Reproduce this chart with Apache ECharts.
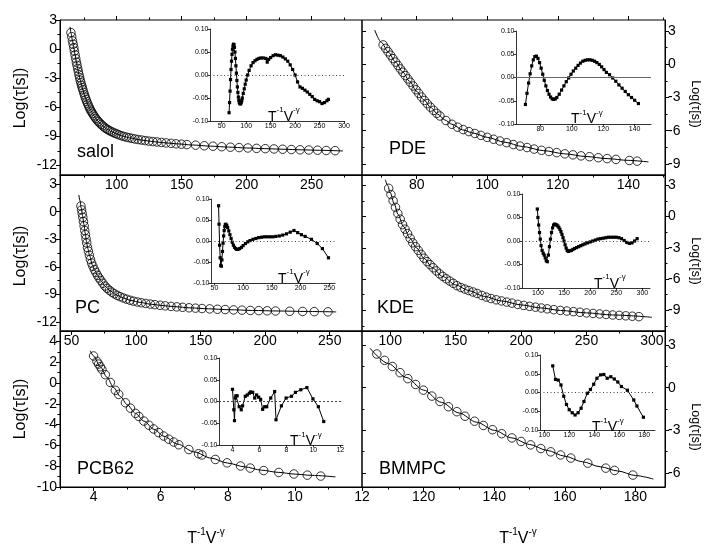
<!DOCTYPE html>
<html>
<head>
<meta charset="utf-8">
<script src="https://cdn.jsdelivr.net/npm/echarts@6/dist/echarts.min.js"></script>
<style>
html, body { margin: 0; padding: 0; background: #fff; }
#chart { width: 712px; height: 548px; }
</style>
</head>
<body>
<div id="chart"></div>
<script>
// ---------- salol ----------
const salolX = [64.8, 65.4, 66, 66.5, 67, 67.5, 68, 68.5, 69, 69.5, 70, 70.5, 71, 71.5, 72, 72.5, 73, 73.5, 74, 74.6, 75.2, 75.8, 76.4, 77, 77.7, 78.4, 79.1, 79.8, 80.6, 81.4, 82.2, 83.1, 84, 85, 86, 87, 88.1, 89.2, 90.4, 91.6, 92.9, 94.2, 95.6, 97, 98.5, 100, 101.7, 103.5, 105.4, 107.4, 109.5, 111.7, 114, 116.5, 119.1, 121.9, 124.8, 127.8, 131, 134.4, 138, 141.8, 145.7, 149.8, 154, 160.7, 167.4, 174.1, 180.8, 187.5, 194.2, 200.9, 207.6, 214.3, 221, 227.7, 234.4, 241.1, 247.8, 254.5, 261.2, 268];
const salolY = [1.7, 1.28, 0.85, 0.5, 0.15, -0.22, -0.6, -0.98, -1.35, -1.68, -2.0, -2.33, -2.65, -2.94, -3.22, -3.49, -3.75, -3.98, -4.2, -4.47, -4.73, -4.97, -5.2, -5.42, -5.65, -5.87, -6.08, -6.29, -6.46, -6.64, -6.82, -7.0, -7.17, -7.34, -7.5, -7.64, -7.79, -7.92, -8.06, -8.18, -8.3, -8.4, -8.5, -8.59, -8.68, -8.76, -8.85, -8.94, -9.02, -9.09, -9.15, -9.22, -9.28, -9.34, -9.39, -9.45, -9.5, -9.55, -9.59, -9.64, -9.69, -9.73, -9.78, -9.82, -9.86, -9.92, -9.98, -10.03, -10.08, -10.13, -10.17, -10.21, -10.25, -10.28, -10.31, -10.34, -10.37, -10.4, -10.42, -10.44, -10.47, -10.49];
const salolFitX = [64.1, 65, 66, 67, 68, 69, 70, 71, 72, 73, 74, 75, 76, 77, 78, 79, 80, 82, 84, 86, 88, 90, 93, 96, 100, 105, 110, 118, 126, 135, 146, 158, 172, 186, 200, 214, 228, 242, 256, 274];
const salolFitY = [2.3, 1.6, 0.85, 0.15, -0.6, -1.35, -2.0, -2.65, -3.22, -3.75, -4.2, -4.65, -5.05, -5.42, -5.75, -6.05, -6.32, -6.78, -7.17, -7.5, -7.78, -8.02, -8.31, -8.53, -8.76, -8.99, -9.17, -9.37, -9.52, -9.65, -9.78, -9.9, -10.02, -10.12, -10.21, -10.28, -10.34, -10.4, -10.45, -10.52];
const salolResX = [65, 66, 67, 68, 69, 70, 71, 72, 73, 74, 75, 76, 77, 78, 79, 80, 81, 82, 83, 84, 85, 86, 87, 88, 89, 90, 91, 92, 94, 96, 98, 100, 103, 106, 110, 114, 118, 122, 126, 130, 135, 140, 143, 146, 150, 155, 160, 165, 170, 175, 180, 185, 190, 195, 200, 205, 210, 215, 220, 225, 230, 235, 240, 245, 250, 255, 260, 265, 268];
const salolResY = [-0.082, -0.06, -0.035, -0.01, 0.012, 0.03, 0.045, 0.056, 0.063, 0.067, 0.066, 0.06, 0.05, 0.036, 0.02, 0.004, -0.012, -0.026, -0.038, -0.048, -0.055, -0.06, -0.062, -0.063, -0.062, -0.059, -0.055, -0.05, -0.04, -0.03, -0.02, -0.011, 0.0, 0.01, 0.02, 0.027, 0.031, 0.034, 0.036, 0.037, 0.037, 0.036, 0.028, 0.034, 0.038, 0.042, 0.044, 0.043, 0.042, 0.039, 0.035, 0.03, 0.022, 0.012, 0.0, -0.015, -0.026, -0.029, -0.033, -0.037, -0.042, -0.047, -0.053, -0.056, -0.058, -0.062, -0.06, -0.056, -0.053];

// ---------- PDE ----------
const pdeX = [70.5, 71.2, 71.9, 72.6, 73.3, 74, 74.7, 75.4, 76.1, 76.8, 77.5, 78.2, 79, 79.8, 80.6, 81.4, 82.2, 83, 83.9, 84.8, 85.7, 86.6, 88.3, 90, 91.6, 93.2, 94.8, 96.5, 98.2, 100, 101.8, 103.6, 105.5, 107.4, 109.3, 111.3, 113.3, 115.4, 117.5, 119.7, 122, 124.3, 126.6, 129, 131.5, 134, 136.5, 140.3, 142.5];
const pdeY = [1.75, 1.44, 1.13, 0.82, 0.51, 0.2, -0.11, -0.42, -0.72, -1.02, -1.32, -1.62, -1.96, -2.3, -2.63, -2.96, -3.27, -3.56, -3.87, -4.16, -4.43, -4.67, -5.08, -5.42, -5.68, -5.9, -6.08, -6.25, -6.42, -6.6, -6.77, -6.93, -7.08, -7.25, -7.39, -7.52, -7.66, -7.77, -7.88, -7.98, -8.09, -8.18, -8.27, -8.35, -8.44, -8.52, -8.59, -8.69, -8.75];
const pdeFitX = [68.1, 70, 72, 74, 76, 78, 80, 82, 84, 86, 88, 90, 93, 96, 100, 105, 110, 116, 122, 128, 134, 140, 145.7];
const pdeFitY = [3.1, 1.97, 1.09, 0.2, -0.68, -1.54, -2.46, -3.2, -3.9, -4.51, -5.03, -5.42, -5.92, -6.21, -6.6, -7.04, -7.43, -7.8, -8.09, -8.33, -8.52, -8.68, -8.82];
const pdeResX = [70.5, 71.5, 72.5, 73.5, 74.5, 75.5, 76.5, 77.5, 78.5, 79.5, 80.5, 81.5, 82.5, 83.5, 84.5, 85.5, 86.5, 87.5, 88.5, 89.5, 90.5, 92, 93.5, 95, 96.5, 98, 99.5, 101, 102.5, 104, 105.5, 107, 108.5, 110, 111.5, 113, 114.5, 116, 117.5, 119, 120.5, 122, 124, 126, 128, 130, 132, 134, 136, 138, 140, 142.4];
const pdeResY = [-0.058, -0.034, -0.012, 0.008, 0.025, 0.038, 0.045, 0.046, 0.041, 0.032, 0.02, 0.007, -0.006, -0.018, -0.028, -0.036, -0.042, -0.046, -0.047, -0.046, -0.043, -0.036, -0.027, -0.018, -0.009, -0.001, 0.007, 0.014, 0.02, 0.026, 0.031, 0.035, 0.037, 0.038, 0.038, 0.037, 0.035, 0.032, 0.028, 0.023, 0.017, 0.011, 0.006, -0.001, -0.008, -0.016, -0.023, -0.03, -0.037, -0.043, -0.049, -0.056];

// ---------- PC ----------
const pcX = [57.2, 57.7, 58.2, 58.7, 59.2, 59.7, 60.2, 60.7, 61.2, 61.7, 62.3, 63, 63.8, 64.6, 65.5, 66.5, 67.6, 68.8, 70, 71.3, 72.7, 74.2, 75.8, 77.5, 79.3, 81.2, 83.2, 85.3, 87.5, 90, 92.6, 95.3, 98, 101, 104, 107.5, 111, 114.5, 118.5, 122.5, 127, 131.5, 136, 141, 146, 151, 157, 163, 169, 175.5, 182, 188.5, 195, 201.5, 208, 219, 229, 238, 248.6];
const pcY = [0.62, 0.2, -0.2, -0.62, -1.08, -1.55, -2.05, -2.5, -2.95, -3.4, -3.9, -4.3, -4.75, -5.2, -5.6, -5.95, -6.3, -6.62, -6.93, -7.22, -7.5, -7.8, -8.1, -8.35, -8.57, -8.77, -8.95, -9.11, -9.26, -9.4, -9.53, -9.65, -9.75, -9.84, -9.92, -10.0, -10.07, -10.13, -10.2, -10.26, -10.32, -10.37, -10.42, -10.47, -10.51, -10.55, -10.59, -10.63, -10.66, -10.7, -10.73, -10.76, -10.78, -10.8, -10.82, -10.85, -10.87, -10.89, -10.91];
const pcFitX = [55.6, 56.5, 57.5, 58.5, 59.5, 60.5, 61.5, 62.5, 64, 66, 68, 70, 73, 76, 80, 85, 90, 96, 103, 111, 120, 130, 142, 156, 172, 190, 210, 232, 255];
const pcFitY = [1.82, 1.2, 0.38, -0.45, -1.35, -2.32, -3.22, -4.0, -4.82, -5.77, -6.41, -6.93, -7.56, -8.13, -8.64, -9.09, -9.4, -9.68, -9.88, -10.07, -10.22, -10.35, -10.48, -10.58, -10.68, -10.76, -10.82, -10.87, -10.92];
const pcResX = [57.2, 58, 59, 60, 61, 62, 63, 64, 65, 66, 67, 68, 69, 70, 71.5, 73, 75, 77, 79, 81, 83, 85, 87, 89, 91, 94, 97, 100, 104, 108, 112, 117, 122, 127, 132, 137, 142, 147, 152, 157, 163, 169, 175.5, 182, 188.5, 195, 201.5, 208, 219, 229, 238, 248.6];
const pcResY = [0.084, 0.04, -0.01, -0.04, -0.058, -0.06, -0.045, -0.025, -0.005, 0.012, 0.025, 0.034, 0.039, 0.04, 0.037, 0.032, 0.024, 0.015, 0.006, -0.003, -0.01, -0.015, -0.018, -0.02, -0.02, -0.018, -0.015, -0.011, -0.006, -0.002, 0.001, 0.004, 0.006, 0.008, 0.009, 0.01, 0.01, 0.01, 0.01, 0.011, 0.012, 0.014, 0.017, 0.021, 0.025, 0.02, 0.015, 0.011, 0.004, -0.006, -0.018, -0.04];

// ---------- KDE ----------
const kdeX = [98.8, 100.5, 102.2, 104, 105.8, 107.6, 109.4, 111.3, 113.2, 115.2, 117.2, 119.3, 121.4, 123.6, 125.8, 128.1, 130.4, 132.8, 135.2, 137.7, 140.2, 142.8, 145.5, 148.2, 151, 154, 157, 160, 163.2, 166.5, 170, 173.5, 177, 181, 185, 189, 193, 197.5, 202, 206.5, 211, 215.5, 220, 225, 230, 235, 240, 245, 250, 255, 260, 265, 270, 275, 280, 285, 290];
const kdeY = [2.72, 2.12, 1.52, 0.89, 0.3, -0.25, -0.77, -1.21, -1.64, -2.09, -2.52, -2.89, -3.25, -3.63, -4.0, -4.33, -4.62, -4.92, -5.22, -5.5, -5.75, -5.98, -6.2, -6.42, -6.64, -6.82, -6.97, -7.11, -7.25, -7.39, -7.58, -7.74, -7.88, -8.0, -8.11, -8.22, -8.32, -8.44, -8.54, -8.63, -8.71, -8.79, -8.87, -8.95, -9.02, -9.08, -9.14, -9.2, -9.26, -9.31, -9.36, -9.41, -9.46, -9.5, -9.54, -9.58, -9.62];
const kdeFitX = [96.2, 98, 100, 103, 106, 110, 115, 120, 126, 132, 140, 150, 160, 172, 185, 200, 215, 230, 250, 270, 300];
const kdeFitY = [3.55, 3.0, 2.3, 1.23, 0.2, -0.94, -2.07, -3.0, -4.03, -4.9, -5.75, -6.57, -7.11, -7.68, -8.11, -8.49, -8.78, -9.02, -9.26, -9.46, -9.68];
const kdeResX = [98.8, 100, 101.5, 103, 104.5, 106, 108, 110, 112, 114, 116, 118, 120, 122, 124, 126, 128, 130, 132, 134, 136, 138, 140, 142, 144, 146, 148, 150, 152, 154, 156, 158, 161, 164, 167, 170, 174, 178, 182, 186, 190, 195, 200, 205, 210, 215, 220, 225, 230, 235, 240, 245, 250, 255, 260, 265, 270, 275, 280, 285, 289.9];
const kdeResY = [0.068, 0.05, 0.034, 0.018, 0.004, -0.01, -0.02, -0.026, -0.03, -0.036, -0.042, -0.044, -0.03, -0.012, 0.004, 0.018, 0.028, 0.034, 0.036, 0.035, 0.034, 0.032, 0.029, 0.025, 0.02, 0.014, 0.007, 0.0, -0.008, -0.015, -0.02, -0.022, -0.021, -0.02, -0.018, -0.016, -0.014, -0.012, -0.01, -0.008, -0.006, -0.004, -0.002, 0.0, 0.002, 0.004, 0.005, 0.006, 0.007, 0.008, 0.008, 0.008, 0.008, 0.007, 0.005, 0.001, -0.003, -0.005, -0.004, 0.0, 0.005];

// ---------- PCB62 ----------
const pcbX = [4.0, 4.1, 4.15, 4.2, 4.25, 4.35, 4.5, 4.65, 4.75, 4.95, 5.1, 5.25, 5.35, 5.5, 5.65, 5.79, 5.94, 6.09, 6.24, 6.39, 6.54, 6.84, 7.13, 7.23, 7.63, 7.98, 8.38, 8.67, 9.07, 9.52, 9.97, 10.37, 10.77];
const pcbY = [2.6, 2.08, 1.82, 1.56, 1.3, 0.8, 0.05, -0.7, -1.1, -1.9, -2.42, -2.92, -3.22, -3.66, -4.06, -4.42, -4.77, -5.1, -5.4, -5.68, -5.94, -6.4, -6.8, -6.92, -7.35, -7.68, -7.98, -8.18, -8.42, -8.6, -8.75, -8.86, -8.95];
const pcbFitX = [3.9, 4.0, 4.2, 4.4, 4.6, 4.8, 5.0, 5.25, 5.5, 5.8, 6.1, 6.5, 7.0, 7.5, 8.0, 8.5, 9.0, 9.5, 10.0, 10.5, 11.21];
const pcbFitY = [3.1, 2.6, 1.56, 0.55, -0.45, -1.3, -2.08, -2.92, -3.66, -4.45, -5.12, -5.87, -6.63, -7.22, -7.7, -8.06, -8.38, -8.59, -8.76, -8.88, -9.03];
const pcbResX = pcbX;
const pcbResY = [0.028, -0.019, -0.044, 0.008, 0.013, 0.013, -0.012, -0.019, -0.01, 0.012, 0.015, 0.019, 0.022, 0.021, 0.008, 0.015, 0.01, 0.005, -0.018, -0.012, -0.012, 0.008, 0.023, -0.042, -0.01, 0.008, 0.012, 0.021, 0.027, 0.032, 0.006, -0.012, -0.046];

// ---------- BMMPC ----------
const bmmX = [106.7, 108.9, 111.1, 113.3, 115.5, 117.7, 119.9, 122.3, 124.6, 127, 129.4, 131.7, 134.4, 136.9, 139.5, 142.1, 145, 147.6, 150.3, 153.2, 156, 158.8, 161.7, 166.5, 171.6, 174.1, 179.3];
const bmmY = [2.38, 1.93, 1.5, 1.06, 0.64, 0.23, -0.17, -0.59, -0.97, -1.34, -1.69, -2.01, -2.36, -2.66, -2.96, -3.24, -3.54, -3.79, -4.03, -4.29, -4.52, -4.74, -4.96, -5.32, -5.67, -5.83, -6.16];
const bmmFitX = [104.8, 110, 115, 120, 125, 130, 135, 140, 145, 150, 155, 160, 165, 170, 175, 180, 185.1];
const bmmFitY = [2.78, 1.7, 0.73, -0.17, -1.03, -1.78, -2.43, -3.0, -3.54, -4.0, -4.42, -4.83, -5.22, -5.57, -5.87, -6.19, -6.44];
const bmmResX = bmmX;
const bmmResY = [0.071, 0.035, 0.033, 0.02, -0.01, -0.032, -0.046, -0.054, -0.06, -0.054, -0.042, -0.024, -0.002, 0.008, 0.022, 0.038, 0.047, 0.048, 0.038, 0.042, 0.036, 0.028, 0.016, 0.006, -0.02, -0.036, -0.066];

// ---------- tick labels ----------
const salolXTicks = [100, 150, 200, 250];
const pdeXTicks = [80, 100, 120, 140];
const pcXTicks = [50, 100, 150, 200, 250];
const kdeXTicks = [100, 150, 200, 250, 300];
const pcbXTicks = [4, 6, 8, 10, 12];
const bmmXTicks = [120, 140, 160, 180];
const logTicks13 = [3, 0, -3, -6, -9, -12];
const logTicks10 = [3, 0, -3, -6, -9];
const pcbYTicks = [4, 2, 0, -2, -4, -6, -8, -10];
const bmmYTicks = [3, 0, -3, -6];
const resTicks = [-0.1, -0.05, 0, 0.05, 0.1];
const salolInsetTicks = [50, 100, 150, 200, 250, 300];
const pdeInsetTicks = [80, 100, 120, 140];
const pcInsetTicks = [50, 100, 150, 200, 250];
const kdeInsetTicks = [100, 150, 200, 250, 300];
const pcbInsetTicks = [4, 6, 8, 10, 12];
const bmmInsetTicks = [100, 120, 140, 160, 180];

const FONT = '"Liberation Sans", Arial, Helvetica, sans-serif';
const INK = '#000';

const panels = [
  { label: 'salol', side: 'left', top: true, grid: [60, 20, 302, 155],
    x: [56.4, 288.7], xTicks: salolXTicks, xMinor: [75, 125, 175, 225, 275],
    y: [-13, 3], yTicks: logTicks13, yMinor: [1.5, -1.5, -4.5, -7.5, -10.5],
    data: [salolX, salolY], fit: [salolFitX, salolFitY], res: [salolResX, salolResY],
    inset: [210, 29, 134, 92], ix: [26, 300], ixTicks: salolInsetTicks, zero: 'dotted',
    labelAt: [77, 152], insetNameAt: [268, 124] },
  { label: 'PDE', side: 'right', top: true, grid: [362, 20, 303, 155],
    x: [64.5, 150.4], xTicks: pdeXTicks, xMinor: [70, 90, 110, 130, 150],
    y: [-10, 4], yTicks: logTicks10, yMinor: [1.5, -1.5, -4.5, -7.5],
    data: [pdeX, pdeY], fit: [pdeFitX, pdeFitY], res: [pdeResX, pdeResY],
    inset: [516, 31, 135, 93], ix: [64.5, 150.4], ixTicks: pdeInsetTicks, zero: 'solid',
    labelAt: [389, 149.5], insetNameAt: [571, 126.5] },
  { label: 'PC', side: 'left', grid: [60, 175, 302, 156],
    x: [41, 275], xTicks: pcXTicks, xMinor: [75, 125, 175, 225],
    y: [-13, 4], yTicks: logTicks13, yMinor: [1.5, -1.5, -4.5, -7.5, -10.5],
    data: [pcX, pcY], fit: [pcFitX, pcFitY], res: [pcResX, pcResY],
    inset: [211, 199, 124, 84], ix: [44, 260], ixTicks: pcInsetTicks, zero: 'dotted',
    labelAt: [75, 307.7], insetNameAt: [278, 286] },
  { label: 'KDE', side: 'right', grid: [362, 175, 303, 156],
    x: [78.4, 310], xTicks: kdeXTicks, xMinor: [125, 175, 225, 275],
    y: [-11, 4], yTicks: logTicks10, yMinor: [1.5, -1.5, -4.5, -7.5, -10.5],
    data: [kdeX, kdeY], fit: [kdeFitX, kdeFitY], res: [kdeResX, kdeResY],
    inset: [522, 194, 128, 94], ix: [69.5, 314.5], ixTicks: kdeInsetTicks, zero: 'dotted',
    labelAt: [377, 307.7], insetNameAt: [594, 291] },
  { label: 'PCB62', side: 'left', grid: [60, 331, 302, 156],
    x: [3, 12], xTicks: pcbXTicks, xMinor: [3, 5, 7, 9, 11],
    y: [-10, 5], yTicks: pcbYTicks, yMinor: [3, 1, -1, -3, -5, -7, -9],
    data: [pcbX, pcbY], fit: [pcbFitX, pcbFitY], res: [pcbResX, pcbResY],
    inset: [219, 358, 124, 87], ix: [3, 12.2], ixTicks: pcbInsetTicks, zero: 'dashed',
    labelAt: [77, 469.4], insetNameAt: [290, 448.5] },
  { label: 'BMMPC', side: 'right', grid: [362, 331, 303, 156],
    x: [102.5, 188.4], xTicks: bmmXTicks, xMinor: [110, 130, 150, 170],
    y: [-7, 4], yTicks: bmmYTicks, yMinor: [1.5, -1.5, -4.5],
    data: [bmmX, bmmY], fit: [bmmFitX, bmmFitY], res: [bmmResX, bmmResY],
    inset: [540, 355, 115, 75], ix: [96.5, 188.6], ixTicks: bmmInsetTicks, zero: 'dotted',
    labelAt: [379, 469.4], insetNameAt: [592, 434.5] }
];

const zip = (xs, ys) => xs.map((v, i) => [v, ys[i]]);

const grids = [], xAxes = [], yAxes = [], series = [], graphics = [];

function axis(gridIndex, range, pos, ticks, opts) {
  return Object.assign({
    type: 'value', gridIndex, min: range[0], max: range[1], position: pos,
    axisLine: { show: true, onZero: false, lineStyle: { color: INK, width: 1 } },
    axisTick: { show: true, inside: false, length: 4, customValues: ticks, lineStyle: { color: INK, width: 1 } },
    axisLabel: { show: true, customValues: ticks, color: INK, fontSize: 14, fontFamily: FONT, margin: 3 },
    splitLine: { show: false }, minorTick: { show: false }, silent: true
  }, opts || {});
}
// tick-only axis (minor ticks and mirrored ticks on the opposite border)
function tickAxis(gridIndex, range, pos, ticks, len, inside) {
  return {
    type: 'value', gridIndex, min: range[0], max: range[1], position: pos,
    axisLine: { show: false, onZero: false },
    axisTick: { show: true, inside: !!inside, length: len, customValues: ticks, lineStyle: { color: INK, width: 1 } },
    axisLabel: { show: false }, splitLine: { show: false }, silent: true
  };
}

const supRich = (big, small) => ({
  b: { fontSize: big, fontFamily: FONT, fill: INK, color: INK, lineHeight: big + 4, verticalAlign: 'bottom' },
  s: { fontSize: small, fontFamily: FONT, fill: INK, color: INK, lineHeight: big + 4, verticalAlign: 'top' }
});
const TV = '{b|T}{s|-1}{b|V}{s|-γ}';

panels.forEach(p => {
  // main panel
  const g = grids.length;
  grids.push({ left: p.grid[0], top: p.grid[1], width: p.grid[2], height: p.grid[3],
    show: true, borderColor: INK, borderWidth: 1, backgroundColor: 'transparent' });
  const xi = xAxes.length;
  xAxes.push(axis(g, p.x, 'bottom', p.xTicks));
  xAxes.push(tickAxis(g, p.x, 'bottom', p.xMinor, 2.5));
  if (p.top) {
    xAxes.push(tickAxis(g, p.x, 'top', p.xTicks, 4));
    xAxes.push(tickAxis(g, p.x, 'top', p.xMinor, 2.5));
  }
  const yi = yAxes.length;
  yAxes.push(axis(g, p.y, p.side, p.yTicks));
  yAxes.push(tickAxis(g, p.y, p.side, p.yMinor, 2.5));
  if (p.side === 'right') {
    yAxes.push(tickAxis(g, p.y, 'left', p.yTicks, 4, true));
    yAxes.push(tickAxis(g, p.y, 'left', p.yMinor, 2.5, true));
  }

  series.push({
    type: 'line', xAxisIndex: xi, yAxisIndex: yi, data: zip(p.fit[0], p.fit[1]),
    showSymbol: false, symbol: 'none', smooth: 0.3, smoothMonotone: 'x', z: 2, silent: true,
    lineStyle: { color: INK, width: 1 }
  });
  series.push({
    type: 'scatter', xAxisIndex: xi, yAxisIndex: yi, data: zip(p.data[0], p.data[1]),
    symbol: 'circle', symbolSize: 8.5, z: 3, silent: true,
    itemStyle: { color: 'rgba(255,255,255,0)', borderColor: INK, borderWidth: 1 }
  });

  // residual inset
  const ig = grids.length;
  grids.push({ left: p.inset[0], top: p.inset[1], width: p.inset[2], height: p.inset[3], show: false });
  const ixi = xAxes.length;
  xAxes.push(axis(ig, p.ix, 'bottom', p.ixTicks, {
    axisTick: { show: true, length: 2.5, customValues: p.ixTicks, lineStyle: { color: INK, width: 0.8 } },
    axisLabel: { show: true, customValues: p.ixTicks, color: INK, fontSize: 7, fontFamily: FONT, margin: 1.5 },
    axisLine: { show: true, onZero: false, lineStyle: { color: INK, width: 0.8 } }
  }));
  const iyi = yAxes.length;
  yAxes.push(axis(ig, [-0.1, 0.1], 'left', resTicks, {
    axisTick: { show: true, length: 2.5, customValues: resTicks, lineStyle: { color: INK, width: 0.8 } },
    axisLabel: { show: true, customValues: resTicks, color: INK, fontSize: 7, fontFamily: FONT, margin: 1.5,
      formatter: v => (Math.abs(v) < 1e-9 ? 0 : v).toFixed(2) },
    axisLine: { show: true, onZero: false, lineStyle: { color: INK, width: 0.8 } }
  }));
  series.push({
    type: 'line', xAxisIndex: ixi, yAxisIndex: iyi, data: zip(p.res[0], p.res[1]),
    symbol: 'rect', symbolSize: 3.2, showSymbol: true, z: 4, silent: true,
    itemStyle: { color: INK }, lineStyle: { color: INK, width: 1 },
    markLine: {
      silent: true, symbol: 'none', label: { show: false },
      lineStyle: p.zero === 'solid' ? { color: '#666', width: 1, type: 'solid' }
                                    : { color: '#444', width: 1, type: p.zero === 'dashed' ? [2, 2] : [1, 2.5] },
      data: [{ yAxis: 0 }]
    }
  });

  // panel label
  graphics.push({ type: 'text', x: p.labelAt[0], y: p.labelAt[1], silent: true,
    style: { text: p.label, fontSize: 18, fontFamily: FONT, fill: INK, align: 'left', verticalAlign: 'middle' } });
  // inset axis title
  graphics.push({ type: 'text', x: p.insetNameAt[0], y: p.insetNameAt[1], silent: true,
    style: { text: TV, rich: supRich(14, 8), align: 'left', verticalAlign: 'bottom' } });
});

// y titles
[[20.5, 98], [20.5, 256], [20.5, 409]].forEach(t => graphics.push({
  type: 'text', x: t[0], y: t[1], rotation: Math.PI / 2, silent: true,
  style: { text: 'Log(τ[s])', fontSize: 16, fontFamily: FONT, fill: INK, align: 'center', verticalAlign: 'middle' }
}));
[[695, 104], [695, 261], [695, 427]].forEach(t => graphics.push({
  type: 'text', x: t[0], y: t[1], rotation: -Math.PI / 2, silent: true,
  style: { text: 'Log(τ[s])', fontSize: 12.5, fontFamily: FONT, fill: INK, align: 'center', verticalAlign: 'middle' }
}));
// x titles
[[206, 547], [518, 547]].forEach(t => graphics.push({
  type: 'text', x: t[0], y: t[1], silent: true,
  style: { text: TV, rich: supRich(16, 10), align: 'center', verticalAlign: 'bottom' }
}));

const chart = echarts.init(document.getElementById('chart'), null, { renderer: 'canvas' });
chart.setOption({
  backgroundColor: '#fff',
  animation: false,
  grid: grids,
  xAxis: xAxes,
  yAxis: yAxes,
  series: series,
  graphic: graphics
});
</script>
</body>
</html>
